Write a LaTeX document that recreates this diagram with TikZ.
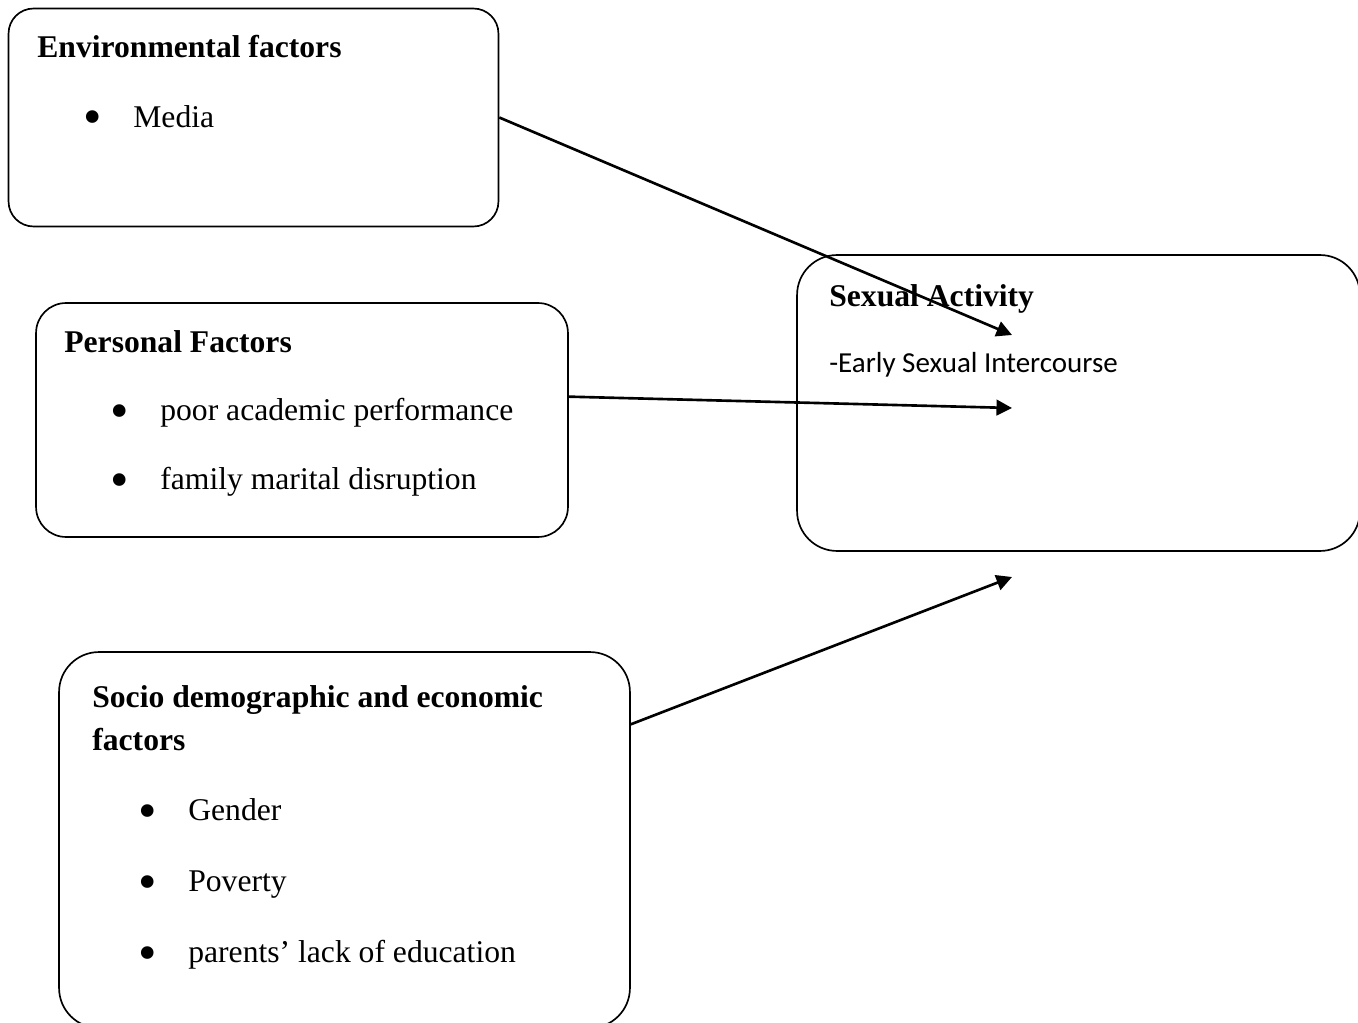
\documentclass[tikz,border=0pt]{standalone}
\usepackage{fontspec}
\setmainfont{Liberation Serif}
\newfontfamily\calibri{Carlito}
\usetikzlibrary{arrows.meta}

\begin{document}
\begin{tikzpicture}[x=0.02cm, y=-0.02cm,
    box/.style={draw, line width=0.95pt, inner sep=0pt, rounded corners=0.5cm},
    bigbox/.style={box, rounded corners=0.8cm},
    title/.style={anchor=base west, inner sep=0pt, font=\fontsize{18}{22}\selectfont\bfseries},
    item/.style={anchor=base west, inner sep=0pt, font=\fontsize{18}{22}\selectfont},
    dot/.style={anchor=center, inner sep=0pt, font=\fontsize{30}{30}\selectfont},
    note/.style={anchor=base west, inner sep=0pt, font=\fontsize{16.5}{20}\selectfont\calibri},
    arrow/.style={-{Triangle[length=3.1mm, width=3.1mm]}, line width=1.5pt}
  ]
    \useasboundingbox (0,0) rectangle (1358,1023);
    % boxes
    \node[box, minimum width=9.8cm, minimum height=4.36cm] (env) at (253.5,117.5) {};
    \node[box, rounded corners=0.6cm, minimum width=10.64cm, minimum height=4.68cm] (pers) at (302,420) {};
    \node[bigbox, minimum width=11.42cm, minimum height=7.52cm] (socio) at (344.5,840) {};
    \node[bigbox, minimum width=11.26cm, minimum height=5.92cm] (sex) at (1078.5,403) {};
    % environmental
    \node[title] (envtitle) at (37,58) {Environmental factors};
    \node[dot] (envdot) at (92.5,123) {•};
    \node[item] (media) at (133,128) {Media};
    % personal
    \node[title] (perstitle) at (64,353) {Personal Factors};
    \node[dot] (persdota) at (120,417) {•};
    \node[item] (poor) at (160,420) {poor academic performance};
    \node[dot] (persdotb) at (120,486) {•};
    \node[item] (family) at (160,489) {family marital disruption};
    % socio demographic
    \node[title] (sociotitle) at (92,707) {Socio demographic and economic};
    \node[title] (sociotitleb) at (92,750) {factors};
    \node[dot] (sociodota) at (148,816.5) {•};
    \node[item] (gender) at (188,820) {Gender};
    \node[dot] (sociodotb) at (148,887.5) {•};
    \node[item] (poverty) at (188,891) {Poverty};
    \node[dot] (sociodotc) at (148,958.5) {•};
    \node[item] (parents) at (188,962) {parents’ lack of education};
    % outcome
    \node[title] (sextitle) at (829,307) {Sexual Activity};
    \node[note] (early) at (829,373) {-Early Sexual Intercourse};
    % arrow ends
    \coordinate (tipa) at (1012,335);
    \coordinate (tipb) at (1012,408);
    \coordinate (tipc) at (1012,577);
    \draw[arrow] (env.east) -- (tipa);
    \draw[arrow] (pers.5) -- (tipb);
    \draw[arrow] (socio.22) -- (tipc);
\end{tikzpicture}
\end{document}
